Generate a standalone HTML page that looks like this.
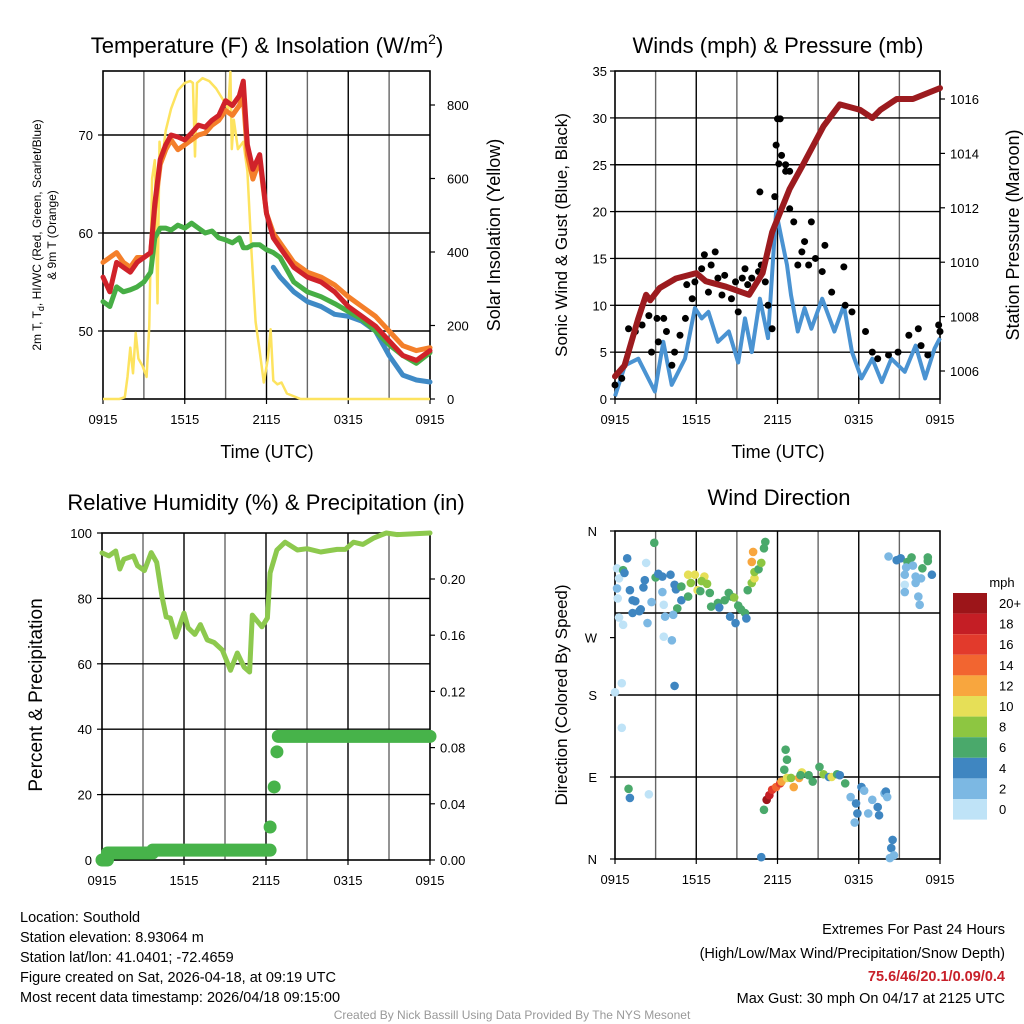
<!DOCTYPE html>
<html><head><meta charset="utf-8"><style>
html,body{margin:0;padding:0;background:#fff;}
svg{display:block;font-family:"Liberation Sans",sans-serif;}
</style></head><body>
<svg id="c" width="1024" height="1024" viewBox="0 0 1024 1024">
<rect width="1024" height="1024" fill="#fff"/>
<g id="g1"></g>
<g id="g2"></g>
<g id="g3"></g>
<g id="g4"></g>
<g font-size="22" text-anchor="middle" fill="#000">
<text x="267" y="53">Temperature (F) &amp; Insolation (W/m<tspan font-size="14" dy="-9">2</tspan><tspan dy="9">)</tspan></text>
<text x="778" y="53">Winds (mph) &amp; Pressure (mb)</text>
<text x="266" y="510">Relative Humidity (%) &amp; Precipitation (in)</text>
<text x="779" y="505">Wind Direction</text>
</g>
<g font-size="18" text-anchor="middle">
<text x="267" y="458">Time (UTC)</text>
<text x="778" y="458">Time (UTC)</text>
<text transform="translate(500,235) rotate(-90)">Solar Insolation (Yellow)</text>
<text transform="translate(567,235) rotate(-90)" font-size="17">Sonic Wind &amp; Gust (Blue, Black)</text>
<text transform="translate(1019,235) rotate(-90)">Station Pressure (Maroon)</text>
<text transform="translate(42,695) rotate(-90)" font-size="19">Percent &amp; Precipitation</text>
<text transform="translate(567,695) rotate(-90)" font-size="17">Direction (Colored By Speed)</text>
</g>
<g font-size="12" text-anchor="middle">
<text transform="translate(41,235) rotate(-90)">2m T, T<tspan font-size="9" dy="3">d</tspan><tspan dy="-3">, HI/WC (Red, Green, Scarlet/Blue)</tspan></text>
<text transform="translate(56,235) rotate(-90)">&amp; 9m T (Orange)</text>
</g>
<g font-size="14.5" fill="#000">
<text x="20" y="922">Location: Southold</text>
<text x="20" y="942">Station elevation: 8.93064 m</text>
<text x="20" y="962">Station lat/lon: 41.0401; -72.4659</text>
<text x="20" y="982">Figure created on Sat, 2026-04-18, at 09:19 UTC</text>
<text x="20" y="1002">Most recent data timestamp: 2026/04/18 09:15:00</text>
<g text-anchor="end">
<text x="1005" y="934">Extremes For Past 24 Hours</text>
<text x="1005" y="958">(High/Low/Max Wind/Precipitation/Snow Depth)</text>
<text x="1005" y="981" fill="#c8202a" font-weight="bold">75.6/46/20.1/0.09/0.4</text>
<text x="1005" y="1003">Max Gust: 30 mph On 04/17 at 2125 UTC</text>
</g>
</g>
<text x="512" y="1019" font-size="12" fill="#999" text-anchor="middle">Created By Nick Bassill Using Data Provided By The NYS Mesonet</text>
</svg>
<script>
// ---- Temperature panel data ----
var tHours=[0,0.5,1,1.5,2,2.5,3,3.5,3.8,4.2,4.6,5,5.5,6,6.5,7,7.5,8,8.5,9,9.5,10,10.3,10.6,11,11.5,12,12.5,13,14,15,16,17,18,19,20,21,22,23,24];
var tempRed=[55.5,54,57,56.5,56,57,57.5,58,63,67.5,69,70,69.8,69.5,70.2,71,70.8,71.5,72,73.5,73,74,75.5,69,66.5,68,62,59.5,58.5,56.5,55.5,55,54,52.5,51.5,50.5,49,47.5,47,48];
var tempOrange=[57,57.5,58,57,56.5,57.5,57.5,58,62.5,67,68.5,69.5,68.5,69,69.5,70,70.2,71,71.5,72.5,72,73,74,68,65.5,67.5,62,60,59,57,56,55.5,54.7,53.5,52.5,51.5,50,48.5,48,48.3];
var tempGreen=[53,52.5,54.5,54,54.2,54.5,55,56,59.5,60.5,60.5,60.3,60.8,60.5,61,60.5,60,60.2,59.5,59.3,59,59.5,58.5,58.5,58.8,58.8,58.3,58,57.5,55,54,53.5,52.8,52,51.2,50,48.6,47.5,46.7,47.8];
var tempBlue=[null,null,null,null,null,null,null,null,null,null,null,null,null,null,null,null,null,null,null,null,null,null,null,null,null,null,null,56.5,55.5,54,53,52.5,51.7,51.5,51,50,47.5,45.5,45,44.8];
var solarHours=[0,1.2,1.6,1.8,2.0,2.2,2.4,2.6,2.9,3.2,3.4,3.6,3.8,4.0,4.15,4.3,4.6,5.0,5.5,6.0,6.4,6.6,6.75,6.9,7.3,7.8,8.3,8.8,9.2,9.35,9.45,9.6,9.9,10.3,10.6,10.9,11.2,11.5,11.8,12.1,12.3,12.5,12.8,13.1,13.5,14.5,24];
var solarVals=[0,0,5,60,140,70,180,110,90,60,200,600,650,260,700,640,730,790,840,860,865,860,660,860,873,865,845,815,790,890,680,760,680,700,620,400,210,130,45,110,190,50,40,45,15,0,0];
var tempTicks=[50,60,70];
var solarTicks=[0,200,400,600,800];
var timeTicks=["0915","1515","2115","0315","0915"];
// ---- Winds panel data ----
var windHours=[0,0.74,1.72,2.95,3.57,4.19,5.17,5.9,6.4,6.9,7.6,8.4,9.1,9.6,10.1,10.7,11.3,11.9,12.3,12.7,13.0,13.5,14.0,14.5,15.3,16.2,16.9,17.5,18.2,19.0,19.7,20.4,21.4,22.2,22.9,23.6,24];
var windSpeed=[0.3,3.6,4.3,0.8,6.1,1.5,4.3,9.7,8.6,9.3,6.1,7.2,3.9,8.6,5.0,10.7,6.5,20.0,17.1,14.3,11.1,7.2,9.7,7.5,10.7,7.2,10.0,5.0,2.2,4.3,1.8,4.3,2.9,5.7,2.2,5.4,6.5];
var gustHours=[0,0.5,1.0,1.5,2.0,2.5,2.7,3.1,3.2,3.6,3.8,4.2,4.4,4.8,5.2,5.3,5.7,5.9,6.4,6.6,6.9,7.1,7.4,7.6,7.9,8.1,8.6,8.9,9.1,9.4,9.6,9.8,10.1,10.6,10.7,10.8,11.1,11.3,11.6,11.8,11.9,12.0,12.2,12.1,12.3,12.6,12.6,12.9,12.9,13.2,13.5,13.8,14.0,14.3,14.5,14.8,15.3,15.5,16.0,16.9,17.0,17.5,18.5,19.0,19.4,20.2,20.9,21.7,22.4,22.6,23.1,23.9,24.0];
var gustVals=[1.5,2.2,7.5,7.2,7.9,8.9,5.0,8.6,6.1,8.6,7.2,3.6,5.0,6.8,8.6,12.2,10.7,12.5,13.9,15.4,11.4,14.3,15.7,12.9,11.1,13.2,10.7,12.5,9.3,12.9,13.9,12.2,12.9,13.6,22.1,14.3,12.5,10.0,7.5,21.6,27.1,29.9,29.9,25.1,26.0,25.0,24.3,24.3,20.3,18.9,14.3,15.7,16.8,14.3,18.9,15.0,13.6,16.4,11.4,14.1,10.0,9.3,7.2,5.0,4.3,4.7,5.0,6.8,7.5,5.7,4.7,7.9,7.2];
var presHours=[0,0.7,1.7,2.3,2.6,3.3,4.5,6.0,6.7,8.2,9.9,10.9,11.6,12.9,13.9,15.4,16.6,18.1,19.0,19.6,20.8,22.0,24];
var presVals=[1005.8,1006.2,1007.9,1008.8,1008.6,1009.05,1009.4,1009.6,1009.3,1009.1,1008.8,1009.6,1011.1,1012.7,1013.6,1015.0,1015.8,1015.6,1015.3,1015.6,1016.0,1016.0,1016.4];
var windTicks=[0,5,10,15,20,25,30,35];
var presTicks=[1006,1008,1010,1012,1014,1016];
// ---- Humidity panel data ----
var rhHours=[0,0.5,1,1.3,1.6,2.3,2.6,3.1,3.6,4.0,4.4,4.7,5.0,5.4,6.0,6.3,6.8,7.2,7.7,8.2,8.8,9.4,9.9,10.4,10.8,11.0,11.7,12.1,12.3,12.8,13.4,14.3,15.0,16.0,17.2,17.8,18.4,19.1,19.9,20.8,21.6,24];
var rhVals=[93.9,93,94.5,89,92,93,90,88.5,94,91,80.4,74.3,74,68.2,75.5,71,69,72,67.3,66.5,64.2,58,63.3,59,57.5,74.9,71.3,74,87.8,94.8,97.2,94.8,95.2,94.2,95,95,97.2,96.5,98.5,100,99.5,100];
var precipStepStart=[0,0.4,3.7,12.9];
var precipStepEnd=[0.4,3.7,12.3,24];
var precipStepVals=[0.0,0.005,0.007,0.088];
var precipDotHours=[12.3,12.6,12.8];
var precipDotVals=[0.0235,0.052,0.077];
var pctTicks=[0,20,40,60,80,100];
var inTicks=["0.00","0.04","0.08","0.12","0.16","0.20"];
// ---- Wind direction data ----
var dirHours=[0.15,0.3,0.15,0.2,0.3,0.6,0.6,0.7,0.9,1.1,1.3,1.5,1.3,1.8,1.9,2.3,2.2,2.1,2.7,2.4,2.9,3.0,3.2,3.5,3.6,3.7,3.6,4.2,3.5,4.1,4.4,4.5,4.9,4.6,4.3,4.9,5.4,5.9,6.6,5.6,6.1,6.4,6.8,5.4,6.3,7.0,7.1,7.6,8.1,8.4,8.6,8.8,9.1,9.3,9.6,8.5,8.9,9.7,7.7,9.8,10.1,10.3,10.3,10.6,10.8,10.1,10.2,11.0,11.1,4.4,0.0,0.5,0.5,1.0,1.1,2.5,10.8,11.0,11.2,11.4,11.6,11.9,12.2,12.3,12.7,13.2,13.0,13.6,13.8,13.7,14.3,14.6,12.6,12.7,12.5,15.1,15.4,15.8,16.0,16.4,16.6,17.0,17.4,17.8,17.9,18.2,18.4,18.7,19.0,19.4,19.5,19.9,20.0,20.1,20.5,20.4,20.6,20.3,17.7,20.2,20.8,21.1,21.9,21.6,21.5,22.0,22.7,23.1,23.1,23.4,21.4,22.2,22.6,21.4,21.4,22.2,22.4,22.5];
var dirVals=[319,308,297,286,265,257,317,314,330,295,284,283,270,272,274,325,306,298,282,259,347,309,313,310,279,266,244,240,293,312,301,296,284,275,268,299,312,312,310,303,295,305,302,288,294,292,277,281,284,292,288,287,278,274,270,266,259,264,276,295,303,308,315,318,325,326,337,341,348,190,183,193,144,77,67,71,2,54,65,70,76,79,83,85,89,79,89,89,95,92,92,85,120,109,98,101,93,90,90,93,92,83,68,61,50,79,75,50,65,57,48,72,74,68,21,12,4,1,40,332,328,330,331,326,320,322,319,331,327,312,312,310,308,301,293,303,288,279];
var dirSpeed=[1,0,2,0,0,1,6,4,4,4,4,4,4,4,4,1,4,4,2,2,6,6,4,4,1,2,1,3,2,4,4,4,4,6,2,6,10,10,10,9,10,8,8,6,6,6,7,7,6,6,6,8,6,6,6,4,4,4,4,6,8,10,8,6,8,12,12,6,6,4,1,1,1,6,4,1,4,6,20,18,17,15,16,13,10,12,9,12,10,7,7,7,6,6,6,6,8,4,10,6,4,6,2,4,4,4,2,2,2,4,4,2,4,2,4,4,2,2,2,2,4,4,6,6,2,2,6,6,6,4,2,2,2,1,2,2,2,2];
var speedLabels=["20+","18","16","14","12","10","8","6","4","2","0"];
var speedColors=["#9c1519","#c41e25","#e23a2c","#f26530","#f8a63e","#e6df57","#8dc641","#4aa96b","#3f86c1","#7cb8e3","#bfe3f7"];

var NS="http://www.w3.org/2000/svg";
function el(parent,tag,attrs){var e=document.createElementNS(NS,tag);for(var k in attrs)e.setAttribute(k,attrs[k]);parent.appendChild(e);return e;}
function linePath(xs,ys,fx,fy){var d="",pen=false;for(var i=0;i<xs.length;i++){if(ys[i]==null){pen=false;continue;}d+=(pen?"L":"M")+fx(xs[i]).toFixed(1)+","+fy(ys[i]).toFixed(1);pen=true;}return d;}
function frame(g,x0,y0,x1,y1,nameBase){
  for(var h=3;h<24;h+=3){var x=x0+(x1-x0)*h/24;var l=el(g,"line",{x1:x,y1:y0,x2:x,y2:y1,stroke:(h%6==0)?"#000":"#666","stroke-width":1.4});
    
    }
  var r=el(g,"rect",{x:x0,y:y0,width:x1-x0,height:y1-y0,fill:"none",stroke:"#000","stroke-width":1.6});
  
  
  for(var i=0;i<timeTicks.length;i++){var x=x0+(x1-x0)*i/4;
    el(g,"line",{x1:x,y1:y1,x2:x,y2:y1+5,stroke:"#000","stroke-width":1.2});
    var t=el(g,"text",{x:x,y:y1+25,"font-size":13,"text-anchor":"middle"});t.textContent=timeTicks[i];
    
    }
}
function hgrid(g,x0,x1,y,dark){var l=el(g,"line",{x1:x0,y1:y,x2:x1,y2:y,stroke:dark?"#000":"#666","stroke-width":1.4});
  
  }
function tick(g,x,y,txt,anchor,dx,nm){el(g,"line",{x1:x,y1:y,x2:x+(anchor=="end"?-5:5),y2:y,stroke:"#000","stroke-width":1.2});
  var t=el(g,"text",{x:x+dx,y:y+5,"font-size":13,"text-anchor":anchor});t.textContent=txt;
  
  }

// Panel 1
(function(){
var g=document.getElementById("g1");var X0=103,X1=430,Y0=71,Y1=399;
var fx=function(h){return X0+(X1-X0)*h/24;};
var fy=function(t){return 331-(t-50)*9.8;};
var fs=function(s){return 399-s*0.3675;};
frame(g,X0,Y0,X1,Y1,"temperature");
tempTicks.forEach(function(v){hgrid(g,X0,X1,fy(v),true);tick(g,X0,fy(v),String(v),"end",-10,"temp-tick-label");});
solarTicks.forEach(function(v){tick(g,X1,fs(v),String(v),"start",17,"solar-tick-label");});
var p;
p=el(g,"path",{d:linePath(solarHours,solarVals,fx,fs),fill:"none",stroke:"#fde35f","stroke-width":2.5,"stroke-linejoin":"round"});


p=el(g,"path",{d:linePath(tHours,tempOrange,fx,fy),fill:"none",stroke:"#f47f2a","stroke-width":5,"stroke-linejoin":"round","stroke-linecap":"round"});


p=el(g,"path",{d:linePath(tHours,tempBlue,fx,fy),fill:"none",stroke:"#3f8ac6","stroke-width":5,"stroke-linejoin":"round","stroke-linecap":"round"});


p=el(g,"path",{d:linePath(tHours,tempGreen,fx,fy),fill:"none",stroke:"#47ae45","stroke-width":5,"stroke-linejoin":"round","stroke-linecap":"round"});


p=el(g,"path",{d:linePath(tHours,tempRed,fx,fy),fill:"none",stroke:"#d0222a","stroke-width":5,"stroke-linejoin":"round","stroke-linecap":"round"});


})();

// Panel 2
(function(){
var g=document.getElementById("g2");var X0=615,X1=940,Y0=71,Y1=399;
var fx=function(h){return X0+(X1-X0)*h/24;};
var fy=function(v){return 399-v*9.37;};
var fp=function(p){return 371-(p-1006)*27.2;};
frame(g,X0,Y0,X1,Y1,"winds");
windTicks.forEach(function(v){if(v>0&&v<35)hgrid(g,X0,X1,fy(v),true);tick(g,X0,fy(v),String(v),"end",-8,"wind-tick-label");});
presTicks.forEach(function(v){tick(g,X1,fp(v),String(v),"start",10,"pressure-tick-label");});
var p=el(g,"path",{d:linePath(windHours,windSpeed,fx,fy),fill:"none",stroke:"#4a93d2","stroke-width":4,"stroke-linejoin":"round"});


for(var i=0;i<gustHours.length;i++){var c=el(g,"circle",{cx:fx(gustHours[i]),cy:fy(gustVals[i]),r:3.5,fill:"#000"});
  
  }
p=el(g,"path",{d:linePath(presHours,presVals,fx,fp),fill:"none",stroke:"#9c1b1f","stroke-width":6,"stroke-linejoin":"round","stroke-linecap":"round"});


})();

// Panel 3
(function(){
var g=document.getElementById("g3");var X0=102,X1=430,Y0=533,Y1=860;
var fx=function(h){return X0+(X1-X0)*h/24;};
var fy=function(v){return 860-v*3.27;};
var fi=function(v){return 860-v*1405;};
frame(g,X0,Y0,X1,Y1,"humidity");
pctTicks.forEach(function(v){if(v>0&&v<100)hgrid(g,X0,X1,fy(v),true);tick(g,X0,fy(v),String(v),"end",-10,"percent-tick-label");});
inTicks.forEach(function(v){tick(g,X1,fi(parseFloat(v)),v,"start",10,"precip-tick-label");});
var p=el(g,"path",{d:linePath(rhHours,rhVals,fx,fy),fill:"none",stroke:"#8dc94e","stroke-width":5,"stroke-linejoin":"round","stroke-linecap":"round"});


for(var i=0;i<precipStepStart.length;i++){var s=el(g,"line",{x1:fx(precipStepStart[i]),y1:fi(precipStepVals[i]),x2:fx(precipStepEnd[i]),y2:fi(precipStepVals[i]),stroke:"#47b34a","stroke-width":13,"stroke-linecap":"round"});
  
  }
for(var j=0;j<precipDotHours.length;j++){var c=el(g,"circle",{cx:fx(precipDotHours[j]),cy:fi(precipDotVals[j]),r:6.5,fill:"#47b34a"});
  
  }
})();

// Panel 4
(function(){
var g=document.getElementById("g4");var X0=615,X1=940,Y0=531,Y1=859;
var fx=function(h){return X0+(X1-X0)*h/24;};
var fy=function(d){return Y1-d/360*(Y1-Y0);};
frame(g,X0,Y0,X1,Y1,"direction");
[90,180,270].forEach(function(d){hgrid(g,X0,X1,fy(d),true);});
var lbl=[["N",360],["W",243],["S",180],["E",90],["N",0]];
lbl.forEach(function(a){tick(g,X0,fy(a[1]),a[0],"end",-18,"direction-tick-label");});
for(var i=0;i<dirHours.length;i++){var sp=(dirSpeed[i]==null)?2:dirSpeed[i];var idx=Math.min(10,Math.floor(sp/2));
  var c=el(g,"circle",{cx:fx(dirHours[i]),cy:fy(dirVals[i]),r:4.3,fill:speedColors[10-idx]});
  
  }
// colorbar
var cb=el(g,"g",{});


var mt=el(cb,"text",{x:1002,y:587,"font-size":13,"text-anchor":"middle"});mt.textContent="mph";


for(var k=0;k<speedLabels.length;k++){var y=593+k*20.6;
  var r=el(cb,"rect",{x:953,y:y,width:34,height:20.6,fill:speedColors[k]});
  
  
  var t=el(cb,"text",{x:999,y:y+15,"font-size":13});t.textContent=speedLabels[k];
  
  }
})();
</script>
</body></html>
